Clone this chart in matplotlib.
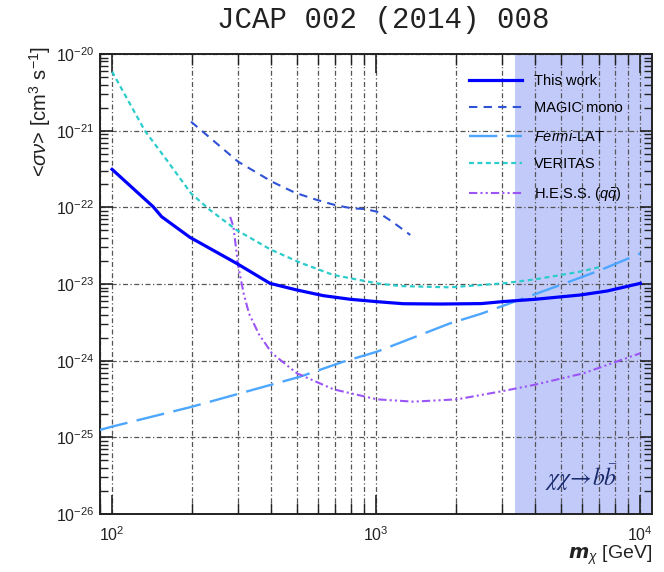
import matplotlib
matplotlib.use('Agg')
import matplotlib.pyplot as plt
import numpy as np

# data (GeV, cm^3 s^-1)
work_m = [100, 143, 154, 197, 296, 396, 501, 630, 797, 1007, 1266, 1746, 2500, 3027, 4000, 5930, 7500, 10000]
work_sv = [3.13e-22, 1.02e-22, 7.55e-23, 4.07e-23, 1.86e-23, 1.02e-23, 8.35e-24, 7.05e-24, 6.32e-24,
           5.88e-24, 5.53e-24, 5.48e-24, 5.55e-24, 5.9e-24, 6.32e-24, 7.19e-24, 8.11e-24, 1.02e-23]

magic_m = [199, 300, 403, 493, 596, 699, 809, 908, 1007, 1150, 1346]
magic_sv = [1.31e-21, 3.94e-22, 2.16e-22, 1.55e-22, 1.25e-22, 1.07e-22, 9.7e-23, 9.5e-23, 8.77e-23,
            6.5e-23, 4.36e-23]

fermi_m = [90, 100, 200, 515, 751, 1007, 1905, 2500, 4977, 7000, 10000]
fermi_sv = [1.25e-25, 1.38e-25, 2.5e-25, 6.18e-25, 9.7e-25, 1.31e-24, 3.07e-24, 4.1e-24, 9.7e-24,
            1.5e-23, 2.5e-23]

veritas_m = [100, 133, 161, 199, 235, 296, 397, 515, 689, 1007, 1233, 1905, 3027, 4000, 5930, 7050]
veritas_sv = [5.9e-21, 1.0e-21, 4.14e-22, 1.52e-22, 9.2e-23, 5.06e-23, 2.83e-23, 1.9e-23, 1.31e-23,
              1.02e-23, 9.4e-24, 9.05e-24, 1.02e-23, 1.15e-23, 1.45e-23, 1.67e-23]

hess_m = [280, 288, 300, 315, 330, 360, 403, 501, 689, 1007, 1383, 2023, 3035, 3944, 6095, 10000]
hess_sv = [7.5e-23, 5.6e-23, 1.75e-23, 7.5e-24, 4.1e-24, 2.2e-24, 1.25e-24, 6.84e-25, 4.23e-25,
           3.13e-25, 2.92e-25, 3.13e-25, 4.03e-25, 4.82e-25, 6.84e-25, 1.25e-24]

band_start = 3360

plt.rcParams['font.family'] = ['Liberation Sans', 'DejaVu Sans']
plt.rcParams['mathtext.fontset'] = 'custom'
plt.rcParams['mathtext.rm'] = 'Liberation Sans'
plt.rcParams['mathtext.it'] = 'Liberation Sans:italic'
plt.rcParams['mathtext.bf'] = 'Liberation Sans:bold'

fig = plt.figure(figsize=(6.64, 5.72), dpi=100)
ax = fig.add_axes([0.1506, 0.1014, 0.8313, 0.8042])

ax.set_xscale('log')
ax.set_yscale('log')
ax.set_xlim(90, 11070)
ax.set_ylim(1e-26, 1e-20)

# excluded region
ax.axvspan(band_start, 11070, color='#c2cafa', lw=0, zorder=1)

ax.plot(work_m, work_sv, color='#0000ff', lw=2.3, label='This work', zorder=5)
ax.plot(magic_m, magic_sv, color='#2f52d6', lw=1.5, dashes=(4, 3), label='MAGIC mono', zorder=4)
ax.plot(fermi_m, fermi_sv, color='#4da6ff', lw=1.7, dashes=(12, 4), label=r'$\it{Fermi}$-LAT', zorder=4)
ax.plot(veritas_m, veritas_sv, color='#2ccccc', lw=1.6, dashes=(2.2, 1.6), label='VERITAS', zorder=4)
ax.plot(hess_m, hess_sv, color='#9b55f5', lw=1.5, dashes=(4, 1.5, 1, 1.5, 1, 1.5), label=r'H.E.S.S. ($q\bar{q}$)', zorder=4)

# grid
grid_style = dict(color='#555555', lw=0.9, dashes=(4, 2, 1, 2))
ax.grid(True, which='major', axis='both', **grid_style)
ax.grid(True, which='minor', axis='x', **grid_style)

ax.tick_params(which='both', direction='in', top=True, right=True, colors='#222222', labelsize=11.5)
ax.tick_params(axis='x', which='major', length=14, width=1.2, pad=8)
ax.tick_params(axis='x', which='minor', length=8, width=1.0)
ax.tick_params(axis='y', which='major', length=9, width=1.2, pad=4)
ax.tick_params(axis='y', which='minor', length=6, width=1.0)
ax.yaxis.set_minor_locator(matplotlib.ticker.LogLocator(base=10, subs=np.arange(2, 10), numticks=20))
ax.yaxis.set_minor_formatter(matplotlib.ticker.NullFormatter())
ax.xaxis.set_minor_formatter(matplotlib.ticker.NullFormatter())
for s in ax.spines.values():
    s.set_linewidth(1.4)
    s.set_color('#222222')

leg = ax.legend(loc='upper right', bbox_to_anchor=(0.97, 0.985), frameon=False, fontsize=10.5,
                handlelength=3.6, labelspacing=0.92, handletextpad=0.8)

ax.text(5970, 2.95e-26, r'$\chi\chi\!\rightarrow\! b\bar{b}$', fontsize=17, color='#1a2a6c',
        ha='center', va='center', math_fontfamily='stix')

fig.text(40 / 664, 1 - 46 / 572, r'<$\sigma\nu$> [cm$^3$ s$^{-1}$]', rotation=90, ha='center', va='top',
         fontsize=14.5, color='#222222')
fig.text(652 / 664, 1 - 555 / 572, r'$\boldsymbol{m}_\chi$ [GeV]', ha='right', va='center',
         fontsize=14, color='#222222')

fig.text(383 / 664, 1 - 20 / 572, 'JCAP 002 (2014) 008', ha='center', va='center',
         fontsize=21, family='Liberation Mono', color='#222222')

fig.savefig('out.png', dpi=100)
